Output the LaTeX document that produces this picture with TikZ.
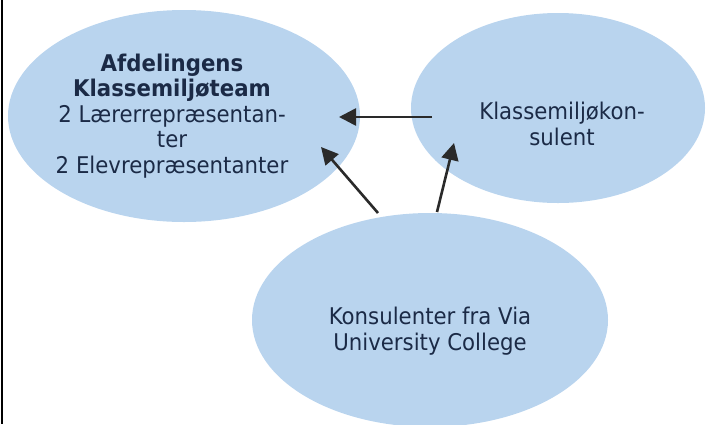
\documentclass[tikz,border=0pt]{standalone}
\usepackage{fontspec}
\setmainfont{DejaVu Sans}[FakeStretch=0.925]
\usetikzlibrary{shapes.geometric,arrows.meta}
\definecolor{bubblefill}{HTML}{B9D4EE}
\definecolor{ink}{HTML}{1B2A46}
\definecolor{pil}{HTML}{2A2A2A}

\begin{document}
\begin{tikzpicture}[x = 1pt, y = -1pt,
	bubble/.style = {ellipse, fill=bubblefill, draw=none, inner sep=0pt},
	txt/.style = {text=ink, align=center, inner sep=0pt, font=\fontsize{23}{25.5}\selectfont},
	arr/.style = {pil, line width=2.6pt, -{Triangle[length=17pt,width=17pt]}}]
	\useasboundingbox (0,0) rectangle (708,424);
	\draw[line width=2pt] (2,0) -- (2,424);
	
	% ellipses
	\node[bubble, minimum width=352, minimum height=212] (team) at (184,116) {};
	\node[bubble, minimum width=294, minimum height=190] (kons) at (558,108) {};
	\node[bubble, minimum width=356, minimum height=214] (via) at (430,320) {};
	
	% texts
	\node[txt] (teamtxt) at (172,116) {\textbf{Afdelingens}\\\textbf{Klassemiljøteam}\\2 Lærerrepræsentan-\\ter\\2 Elevrepræsentanter};
	\node[txt] (konstxt) at (562,124) {Klassemiljøkon-\\sulent};
	\node[txt] (viatxt) at (430,331) {Konsulenter fra Via\\University College};
	
	% arrow ends
	\coordinate (konsout) at (432,117);
	\coordinate (teamin) at (339,117);
	\coordinate (viaout1) at (378,213);
	\coordinate (teamin2) at (321,147);
	\coordinate (viaout2) at (437,212);
	\coordinate (konsin) at (454,143);
	
	\draw[arr] (konsout) -- (teamin);
	\draw[arr] (viaout1) -- (teamin2);
	\draw[arr] (viaout2) -- (konsin);
\end{tikzpicture}
\end{document}
